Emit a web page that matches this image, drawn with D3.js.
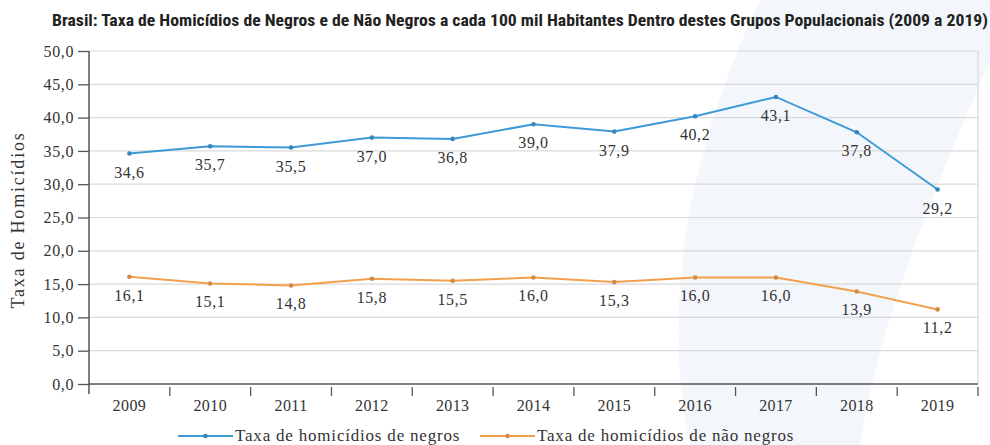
<!DOCTYPE html>
<html><head><meta charset="utf-8">
<script src="https://cdn.jsdelivr.net/npm/d3@7"></script>
<style>body{margin:0;background:#fff}svg{display:block}</style>
</head><body>
<svg id="c" width="990" height="445"></svg>
<script>
const years = ["2009","2010","2011","2012","2013","2014","2015","2016","2017","2018","2019"];
const negros = [34.6,35.7,35.5,37.0,36.8,39.0,37.9,40.2,43.1,37.8,29.2];
const naoNegros = [16.1,15.1,14.8,15.8,15.5,16.0,15.3,16.0,16.0,13.9,11.2];
const yTicks = [0,5,10,15,20,25,30,35,40,45,50];
const seriesNames = ["Taxa de homicídios de negros","Taxa de homicídios de não negros"];
const title = "Brasil: Taxa de Homicídios de Negros e de Não Negros a cada 100 mil Habitantes Dentro destes Grupos Populacionais (2009 a 2019)";
const yTitle = "Taxa de Homicídios";

const blue = "#3d9ad6", orange = "#f2a04e";
const serif = "'Liberation Serif','DejaVu Serif',serif";
const fmt = v => d3.format(".1f")(v).replace(".", ",");

const svg = d3.select("#c");
const m = {l:89, r:978, t:51, b:384};
const x = d3.scaleBand().domain(years).range([m.l, m.r]).padding(0);
const y = d3.scaleLinear().domain([0,50]).range([m.b, m.t]);

// faint watermark band
svg.append("path")
  .attr("d","M760,0 L990,0 L990,60 C930,200 880,320 860,445 L690,445 C660,300 690,150 760,0 Z")
  .attr("fill","#f3f7fb");

// title
svg.append("text").attr("x",52).attr("y",26)
  .attr("font-family","'Liberation Sans Narrow','Roboto Condensed','Roboto','Liberation Sans',sans-serif")
  .attr("font-weight","bold").attr("font-size",16).attr("fill","#222")
  .attr("textLength",936).attr("lengthAdjust","spacingAndGlyphs")
  .text(title);

// gridlines
svg.append("g").selectAll("line").data(yTicks.filter(d=>d>0)).join("line")
  .attr("x1",m.l).attr("x2",m.r).attr("y1",d=>y(d)).attr("y2",d=>y(d))
  .attr("stroke","#d9d9d9").attr("stroke-width",1.2);
// right border
svg.append("line").attr("x1",m.r).attr("x2",m.r).attr("y1",m.t).attr("y2",m.b)
  .attr("stroke","#d9d9d9").attr("stroke-width",1.2);

// y axis
const ya = svg.append("g").attr("transform",`translate(${m.l},0)`)
  .call(d3.axisLeft(y).tickValues(yTicks).tickFormat(fmt).tickSize(11).tickPadding(4));
ya.select(".domain").attr("d",`M0,${m.t}V${m.b+10}`).attr("stroke","#555").attr("stroke-width",1.5);
ya.selectAll(".tick line").attr("stroke","#555").attr("stroke-width",1.3);
ya.selectAll(".tick text").attr("font-family",serif).attr("font-size",16)
  .attr("letter-spacing",0.6).attr("fill","#333");

// x axis
const xa = svg.append("g").attr("transform",`translate(0,${m.b})`)
  .call(d3.axisBottom(x).tickSize(0).tickPadding(16));
xa.select(".domain").attr("d",`M${m.l},0H${m.r}`).attr("stroke","#555").attr("stroke-width",1.5);
xa.selectAll(".tick text").attr("font-family",serif).attr("font-size",16)
  .attr("letter-spacing",0.4).attr("fill","#333");
// x tick marks at band boundaries
svg.append("g").selectAll("line").data(years.slice(1).concat(["end"])).join("line")
  .attr("x1",(d,i)=> i<years.length-1 ? x(d) : m.r)
  .attr("x2",(d,i)=> i<years.length-1 ? x(d) : m.r)
  .attr("y1",m.b+3).attr("y2",m.b+12).attr("stroke","#555").attr("stroke-width",1.3);

// y title
svg.append("text").attr("transform",`translate(24,220) rotate(-90)`)
  .attr("text-anchor","middle").attr("font-family",serif).attr("font-size",18)
  .attr("letter-spacing",1.8).attr("fill","#333")
  .text(yTitle);

const cx = d => x(d) + x.bandwidth()/2;
const series = [{vals:negros,color:blue},{vals:naoNegros,color:orange}];
const line = d3.line().x(d=>cx(d.year)).y(d=>y(d.v));
series.forEach(s=>{
  const pts = years.map((yr,i)=>({year:yr,v:s.vals[i]}));
  svg.append("path").datum(pts).attr("d",line).attr("fill","none")
    .attr("stroke",s.color).attr("stroke-width",2);
  svg.append("g").selectAll("circle").data(pts).join("circle")
    .attr("cx",d=>cx(d.year)).attr("cy",d=>y(d.v)).attr("r",2.3).attr("fill",d3.color(s.color).darker(0.4));
  svg.append("g").selectAll("text").data(pts).join("text")
    .attr("x",d=>cx(d.year)).attr("y",d=>y(d.v)+24).attr("text-anchor","middle")
    .attr("font-family",serif).attr("font-size",16).attr("letter-spacing",0.6).attr("fill","#333")
    .text(d=>fmt(d.v));
});

// legend
const leg = [{x:178,color:blue,name:seriesNames[0]},{x:480,color:orange,name:seriesNames[1]}];
leg.forEach(l=>{
  const g = svg.append("g").attr("transform",`translate(${l.x},436)`);
  g.append("line").attr("x1",0).attr("x2",55).attr("stroke",l.color).attr("stroke-width",2);
  g.append("circle").attr("cx",27.5).attr("r",2.3).attr("fill",d3.color(l.color).darker(0.4));
  g.append("text").attr("x",57).attr("y",5).attr("font-family",serif).attr("font-size",17)
    .attr("letter-spacing",0.8).attr("fill","#333").text(l.name);
});
</script>
</body></html>
